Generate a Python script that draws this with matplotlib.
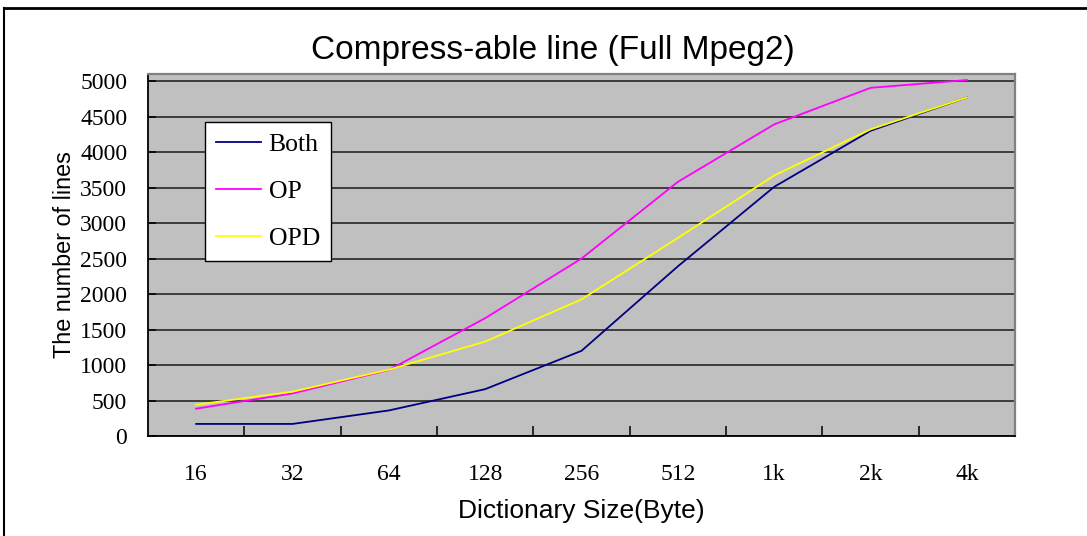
import numpy as np
import matplotlib
matplotlib.use("Agg")
import matplotlib.pyplot as plt
from matplotlib.lines import Line2D

# categories (dictionary size) and the three series
sizes = ["16", "32", "64", "128", "256", "512", "1k", "2k", "4k"]
both = [170, 170, 360, 660, 1200, 2390, 3510, 4300, 4770]
op = [385, 600, 930, 1660, 2500, 3580, 4390, 4905, 5015]
opd = [440, 625, 935, 1330, 1925, 2790, 3670, 4320, 4770]

series_names = ["Both", "OP", "OPD"]
series_colors = ["#000080", "#FF00FF", "#FFFF00"]
yticks = list(range(0, 5001, 500))

serif = ["Liberation Serif", "DejaVu Serif"]
sans = ["Liberation Sans", "DejaVu Sans"]

fig = plt.figure(figsize=(10.87, 5.36), dpi=100)
fig.patch.set_facecolor("white")
ax = fig.add_axes([148 / 1087, 100 / 536, 867 / 1087, 362 / 536])
ax.set_facecolor("#C0C0C0")

x = np.arange(len(sizes))
for vals, name, col in zip([both, op, opd], series_names, series_colors):
    ax.plot(x, vals, color=col, lw=1.3, label=name, zorder=3)

ax.set_xlim(-0.5, len(sizes) - 0.5)
ax.set_ylim(0, 5100)

# gridlines on every y tick
ax.set_yticks(yticks)
for t in yticks:
    ax.axhline(t, color="#1a1a1a", lw=1.1, zorder=1)

# x: tick marks between categories, labels at category centres
ax.set_xticks(np.arange(0.5, len(sizes), 1.0))
ax.set_xticklabels([])
ax.set_xticks(x, minor=True)
ax.set_xticklabels(sizes, minor=True, fontfamily=serif, fontsize=17)
ax.tick_params(axis="x", which="major", direction="in", length=7, width=1.1, color="black")
ax.tick_params(axis="x", which="minor", length=0, pad=20)
ax.tick_params(axis="y", direction="in", length=6, width=1.1, pad=15)
for lab in ax.get_yticklabels():
    lab.set_fontfamily(serif)
    lab.set_fontsize(17)

for s in ["left", "bottom"]:
    ax.spines[s].set_color("black")
    ax.spines[s].set_linewidth(1.3)
for s in ["top", "right"]:
    ax.spines[s].set_color("#808080")
    ax.spines[s].set_linewidth(1.6)

ax.set_xlabel("Dictionary Size(Byte)", fontfamily=sans, fontsize=19)
ax.xaxis.set_label_coords(0.5, -0.175)
ax.set_ylabel("The number of lines", fontfamily=sans, fontsize=16.8)
ax.yaxis.set_label_coords(-0.083, 0.5)

fig.text(553 / 1087, (536 - 51) / 536, "Compress-able line (Full Mpeg2)",
         ha="center", va="center", fontfamily=sans, fontsize=24)

leg = ax.legend(loc="upper left", bbox_to_anchor=(0.066, 0.868),
                prop={"family": serif, "size": 18.5}, frameon=True, fancybox=False,
                edgecolor="black", framealpha=1, handlelength=1.75,
                handletextpad=0.3, labelspacing=0.95, borderpad=0.42,
                borderaxespad=0)
leg.get_frame().set_linewidth(1.0)

# outer frame of the picture
fig.add_artist(Line2D([4 / 1087, 4 / 1087], [0, 1 - 8 / 536], color="black", lw=1.5,
                      transform=fig.transFigure))
fig.add_artist(Line2D([4 / 1087, 1], [1 - 8 / 536, 1 - 8 / 536], color="black", lw=2,
                      transform=fig.transFigure))

fig.savefig("out.png", dpi=100)
